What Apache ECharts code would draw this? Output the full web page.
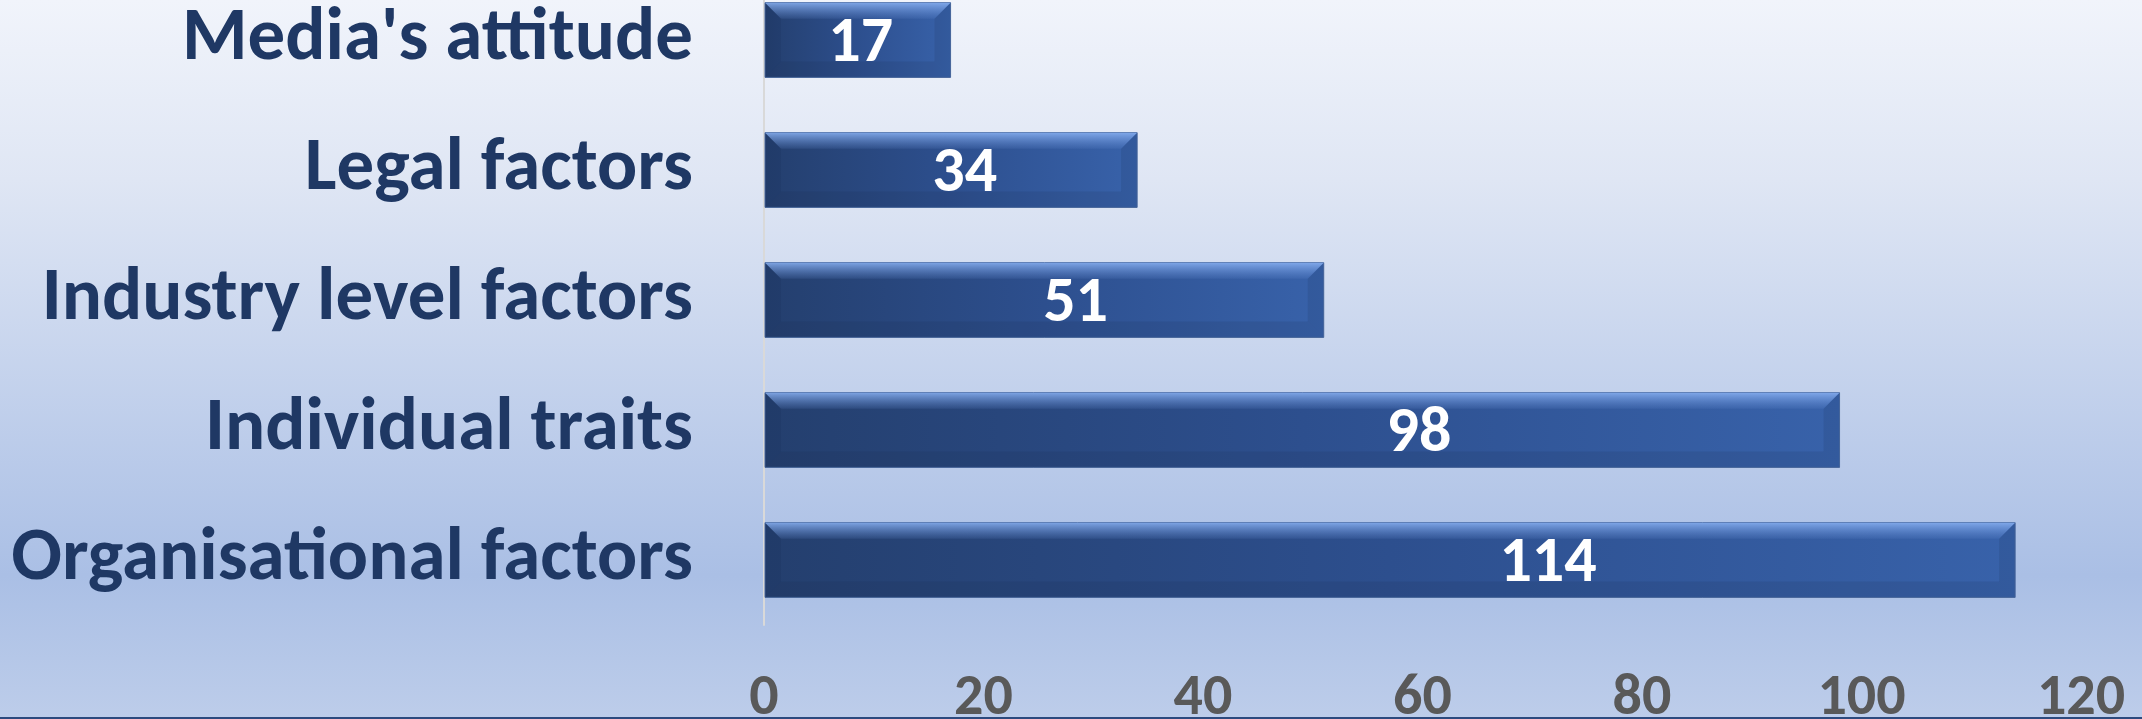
<!DOCTYPE html>
<html>
<head>
<meta charset="utf-8">
<script src="https://cdn.jsdelivr.net/npm/echarts@6/dist/echarts.min.js"></script>
<style>
html,body{margin:0;padding:0;}
#chart{width:2142px;height:719px;}
</style>
</head>
<body>
<div id="chart"></div>
<script>
// ---- data ----
const categories = ["Organisational factors", "Individual traits", "Industry level factors", "Legal factors", "Media's attitude"];
const values = [114, 98, 51, 34, 17];
const xTicks = [0, 20, 40, 60, 80, 100, 120];

// ---- font sizing (Calibri substitute, fitted to reference label width) ----
const FAMILY = 'Carlito, "Liberation Sans Narrow", "DejaVu Sans Condensed", "Open Sans", sans-serif';
const cv = document.createElement('canvas').getContext('2d');
cv.font = 'bold 100px ' + FAMILY;
const w100 = cv.measureText('Organisational factors').width;
const catSize = Math.round(682 / w100 * 100);
const tickSize = Math.round(catSize * 57 / 74);
const labelSize = Math.round(catSize * 63 / 74);

const chart = echarts.init(document.getElementById('chart'));

function renderBar(params, api) {
  const cat = api.value(0);
  const val = api.value(1);
  const p0 = api.coord([0, cat]);
  const p1 = api.coord([val, cat]);
  // label anchor: the original (3-D Excel) places labels progressively right of centre
  const pl = api.coord([val * (0.5 + val / 900), cat]);
  const h = api.size([0, 1])[1] * 0.575;
  const x0 = p0[0] + 1, x1 = p1[0];
  const y0 = p0[1] - h / 2, y1 = p0[1] + h / 2;
  const b = 16;
  return {
    type: 'group',
    children: [
      { type: 'rect', shape: { x: x0, y: y0, width: x1 - x0, height: h },
        style: { fill: new echarts.graphic.LinearGradient(0, 0, 1, 0, [
          { offset: 0, color: '#243f6e' }, { offset: 0.5, color: '#2d4f8e' }, { offset: 1, color: '#3862aa' }]),
          stroke: '#4a6aa0', lineWidth: 1 } },
      { type: 'polygon', shape: { points: [[x0, y0], [x1, y0], [x1 - b, y0 + b], [x0 + b, y0 + b]] },
        style: { fill: new echarts.graphic.LinearGradient(0, 0, 0, 1, [
          { offset: 0, color: 'rgba(140,180,245,0.85)' }, { offset: 1, color: 'rgba(110,150,220,0.12)' }]) } },
      { type: 'polygon', shape: { points: [[x0, y1], [x1, y1], [x1 - b, y1 - b], [x0 + b, y1 - b]] },
        style: { fill: 'rgba(20,35,70,0.13)' } },
      { type: 'polygon', shape: { points: [[x0, y0], [x0 + b, y0 + b], [x0 + b, y1 - b], [x0, y1]] },
        style: { fill: 'rgba(20,35,70,0.12)' } },
      { type: 'polygon', shape: { points: [[x1, y0], [x1 - b, y0 + b], [x1 - b, y1 - b], [x1, y1]] },
        style: { fill: 'rgba(20,35,70,0.13)' } },
      { type: 'text', style: { text: String(val), x: pl[0], y: p0[1] + 5,
        align: 'center', verticalAlign: 'middle', fill: '#ffffff',
        font: 'bold ' + labelSize + 'px ' + FAMILY } }
    ]
  };
}

chart.setOption({
  animation: false,
  backgroundColor: new echarts.graphic.LinearGradient(0, 0, 0, 1, [
    { offset: 0, color: '#f1f4fb' },
    { offset: 0.25, color: '#dfe6f4' },
    { offset: 0.8, color: '#aabfe5' },
    { offset: 1, color: '#bdcdea' }
  ]),
  grid: { left: 764, right: 61, top: -25, bottom: 94, containLabel: false, outerBoundsMode: 'none' },
  xAxis: {
    type: 'value', min: xTicks[0], max: xTicks[xTicks.length - 1], interval: 20,
    axisLine: { show: false }, axisTick: { show: false }, splitLine: { show: false },
    axisLabel: { color: '#595959', fontWeight: 'bold', fontSize: tickSize, fontFamily: FAMILY, margin: 45 }
  },
  yAxis: {
    type: 'category', data: categories,
    axisLine: { show: true, lineStyle: { color: '#d9d9d9', width: 2 } },
    axisTick: { show: false },
    axisLabel: { color: '#1f3864', fontWeight: 'bold', fontSize: catSize, fontFamily: FAMILY, margin: 71 }
  },
  series: [{
    type: 'custom',
    renderItem: renderBar,
    encode: { x: 1, y: 0 },
    data: values.map((v, i) => [i, v])
  }],
  graphic: [{
    type: 'rect', left: 0, bottom: 0, shape: { width: 2142, height: 2 },
    style: { fill: '#2c4a7e' }
  }]
});
</script>
</body>
</html>
